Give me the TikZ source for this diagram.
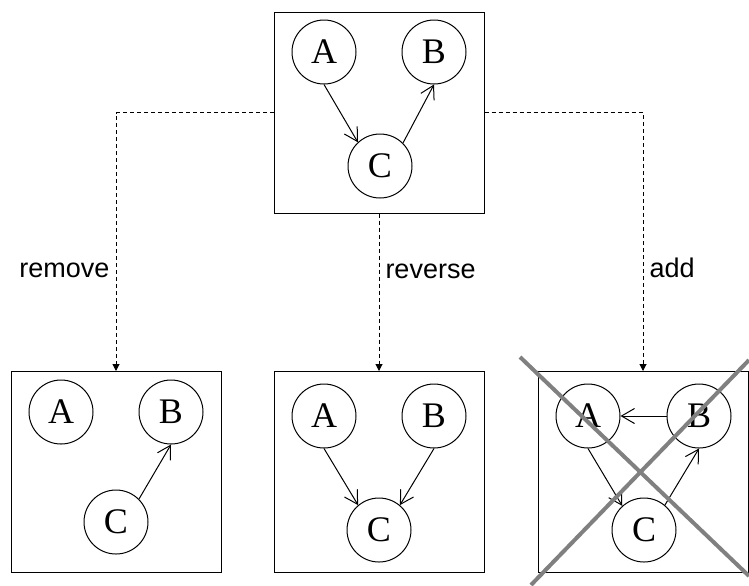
\documentclass[tikz,border=0pt]{standalone}
\usepackage{fontspec}
\setmainfont{Liberation Serif}
\newfontfamily\labelfont{Liberation Sans}
\usetikzlibrary{arrows.meta}
\tikzset{
  bnvar/.style  ={circle, draw, line width=0.5pt, minimum size=32pt, inner sep=0pt,
                  font=\fontsize{18}{18}\selectfont},
  bnpanel/.style={rectangle, draw, line width=0.5pt, minimum width=105pt,
                  minimum height=100.5pt, inner sep=0pt},
  bnedge/.style ={-{Straight Barb[length=6.5pt,width=7.5pt]}, line width=0.5pt},
  bnmove/.style ={-{Triangle[length=3.5pt,width=3.5pt]}, line width=0.5pt,
                  dash pattern=on 2pt off 1.5pt},
  bnlabel/.style={font=\labelfont\fontsize{13.5}{13.5}\selectfont, inner sep=0pt},
  bncross/.style={line width=2pt, black!50},
}

\begin{document}
\begin{tikzpicture}[x=0.5pt, y=-0.5pt]
\useasboundingbox (0,0) rectangle (749,585);
% panels
\node[bnpanel] (top) at (379,112.5) {};
\node[bnpanel] (rem) at (116,472) {};
\node[bnpanel] (rev) at (379,472) {};
\node[bnpanel] (add) at (643,472) {};
% original network
\node[bnvar] (tA) at (324,52) {A};
\node[bnvar] (tB) at (434,52) {B};
\node[bnvar] (tC) at (380,166) {C};
\draw[bnedge] (tA.south) -- (tC.133);
\draw[bnedge] (tC.45) -- (tB.south);
% edge removed
\node[bnvar] (mA) at (61,412) {A};
\node[bnvar] (mB) at (171,412) {B};
\node[bnvar] (mC) at (116,522) {C};
\draw[bnedge] (mC.45) -- (mB.south);
% edge reversed
\node[bnvar] (vA) at (324,416) {A};
\node[bnvar] (vB) at (434,416) {B};
\node[bnvar] (vC) at (379,530) {C};
\draw[bnedge] (vA.south) -- (vC.130);
\draw[bnedge] (vB.south) -- (vC.50);
% edge added, gives a cycle
\node[bnvar] (aA) at (588,416) {A};
\node[bnvar] (aB) at (699,416) {B};
\node[bnvar] (aC) at (644,530) {C};
\draw[bnedge] (aB.west) -- (aA.east);
\draw[bnedge] (aA.south) -- (aC.132);
\draw[bnedge] (aC.50) -- (aB.south);
\draw[bncross] (520,357) -- (749,576);
\draw[bncross] (749,360) -- (531,585);
% moves
\draw[bnmove] (top.west) -| node[bnlabel, pos=0.82, anchor=base east, xshift=-3pt] (lrem) {remove} (rem.north);
\draw[bnmove] (top.south) -- node[bnlabel, pos=0.41, anchor=base west, xshift=3pt] (lrev) {reverse} (rev.north);
\draw[bnmove] (top.east) -| node[bnlabel, pos=0.82, anchor=base west, xshift=3pt] (ladd) {add} (add.north);
\end{tikzpicture}
\end{document}
